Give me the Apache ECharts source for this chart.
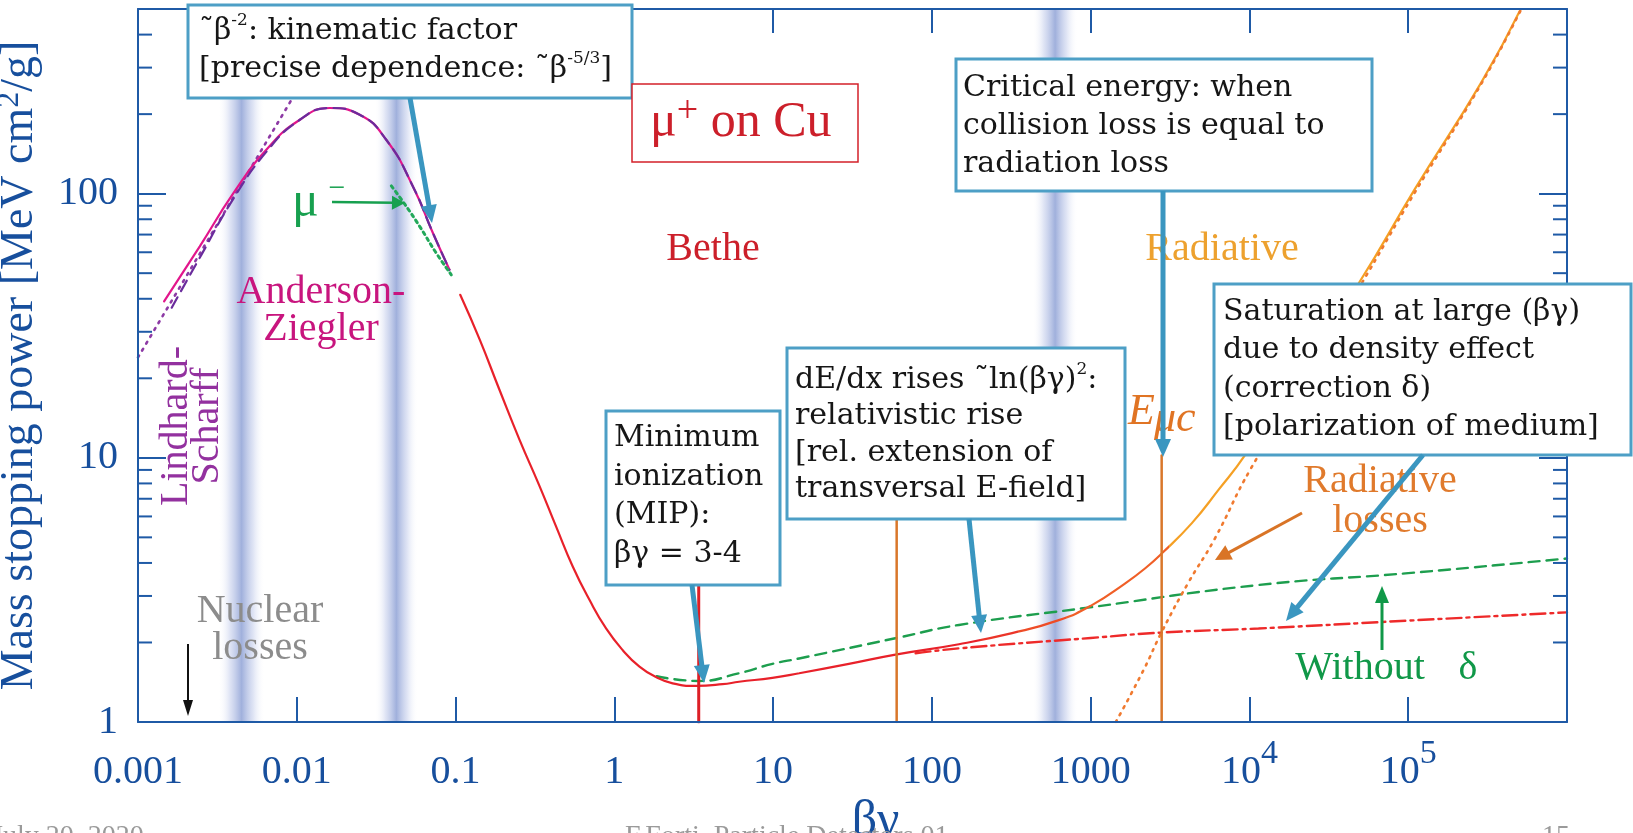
<!DOCTYPE html>
<html>
<head>
<meta charset="UTF-8">
<title>Mass stopping power - mu+ on Cu</title>
<script type="text/javascript" src="https://cdn.jsdelivr.net/npm/echarts@6/dist/echarts.min.js"></script>
<style>
  html, body { margin: 0; padding: 0; background: #fff; }
</style>
</head>
<body>
<div id="main" style="width:1633px;height:833px"></div>
<script type="text/javascript">
// axis ranges and ticks
var xRange = [0.001, 1e6];
var yRange = [1, 500];
var xTickLabels = ['0.001', '0.01', '0.1', '1', '10', '100', '1000', '10^4', '10^5'];
var yTickLabels = ['1', '10', '100'];
var yMinorTicks = [2, 3, 4, 5, 6, 7, 8, 9, 20, 30, 40, 50, 60, 70, 80, 90, 200, 300, 400];

// shaded bands, in betagamma
var bands = [[0.0032, 0.0063], [0.031, 0.058], [430, 830]];

// curves: [betagamma, MeV cm2/g]
var totalLoss = [[0.107, 41.4], [0.142, 28.0], [0.189, 18.1], [0.253, 11.7], [0.337, 7.85], [0.43, 5.49],
  [0.547, 3.88], [0.697, 2.90], [0.887, 2.26], [1.13, 1.87], [1.44, 1.62], [1.83, 1.48], [2.33, 1.40],
  [3.27, 1.37], [4.8, 1.39], [6.1, 1.42], [9.9, 1.47], [14.6, 1.53], [30, 1.66], [59, 1.80], [148, 1.97],
  [320, 2.17], [630, 2.43], [1019, 2.77], [1652, 3.35], [2208, 3.82], [2810, 4.35], [4340, 5.66],
  [6380, 7.56], [9400, 10.26], [49000, 46], [110000, 104], [290000, 265], [520000, 510]];
var restrictedLoss = [[79, 1.82], [148, 1.90], [1000, 2.08], [2810, 2.18], [11400, 2.26], [100000, 2.42], [1000000, 2.60]];
var withoutDelta = [[1.85, 1.49], [3.4, 1.43], [6.1, 1.53], [9.9, 1.66], [14.6, 1.74], [60, 2.08],
  [148, 2.33], [960, 2.71], [11400, 3.30], [100000, 3.66], [1000000, 4.16]];
var radiativeLoss = [[1440, 1], [2150, 1.57], [2810, 2.2], [4100, 3.35], [6000, 4.9], [10200, 9.1],
  [49000, 44], [110000, 101], [290000, 262], [520000, 505]];
var andersonZiegler = [[0.00146, 39.1], [0.00245, 63.2], [0.004, 100.6], [0.00645, 147], [0.0104, 190],
  [0.0161, 211], [0.0249, 199], [0.0366, 160], [0.0537, 107], [0.072, 71], [0.0916, 51.5]];
var lindhardDashed = [[0.00163, 37], [0.0025, 58.5], [0.004, 96], [0.0065, 145], [0.0104, 190],
  [0.0161, 211], [0.0249, 199], [0.0366, 160], [0.0537, 107], [0.072, 71], [0.0916, 51.5]];
var lindhardDotted = [[0.001, 24], [0.0115, 282]];
var muMinus = [[0.0394, 107], [0.048, 91], [0.0594, 75.2], [0.075, 60], [0.094, 49.3]];
var mipLine = [[3.4, 1], [3.4, 3.4]];
var eFieldLine = [[60, 1], [60, 6]];
var ecLine = [[2800, 1], [2800, 10.2]];

// colour grading of the total curve along betagamma
var gradeBreaks = [200, 350, 700, 3100];
var gradeColors = ['#e8212a', '#eb3529', '#ee4c27', '#f05f27', '#f5a024'];

var AXIS = '#1f5aa6';
var AXIS_TEXT = '#174f9d';
var SERIF = 'Liberation Serif';
var BOXFONT = 'DejaVu Serif';

var myChart = echarts.init(document.getElementById('main'), null, {renderer: 'canvas'});

var pieces = gradeColors.map(function (c, i) {
  return {
    gte: i === 0 ? xRange[0] / 10 : gradeBreaks[i - 1],
    lt: i < gradeBreaks.length ? gradeBreaks[i] : xRange[1] * 10,
    color: c
  };
});

function lineSeries(name, data, color, width, type, smooth) {
  var s = {
    name: name, type: 'line', data: data, symbol: 'none', showSymbol: false,
    smooth: smooth !== false, silent: true, z: 3,
    lineStyle: {width: width, type: type || 'solid', cap: 'round'}
  };
  if (color) s.lineStyle.color = color;
  return s;
}

// graphics: boxes, labels, arrows
var graphics = [];
function box(x, y, w, h, stroke, lw) {
  graphics.push({type: 'rect', z: 100, shape: {x: x, y: y, width: w, height: h},
    style: {fill: '#fff', stroke: stroke, lineWidth: lw}});
}
var boxRich = {
  s: {fontSize: 17, lineHeight: 16, verticalAlign: 'top', fontFamily: BOXFONT}
};
function boxText(x, y, lh, lines) {
  graphics.push({type: 'text', z: 101, x: x, y: y,
    style: {text: lines.join('\n'), fontFamily: BOXFONT, fontSize: 30, fill: '#161616',
      align: 'left', verticalAlign: 'top', lineHeight: lh, rich: boxRich}});
}
function freeText(x, y, text, size, color, opt) {
  opt = opt || {};
  graphics.push({type: 'text', z: 101, x: x, y: y, rotation: opt.rotation || 0,
    style: {text: text, fontFamily: SERIF, fontSize: size, fill: color, fontStyle: opt.italic ? 'italic' : 'normal',
      align: opt.align || 'center', verticalAlign: opt.valign || 'middle', lineHeight: opt.lh || size, rich: opt.rich}});
}
function arrow(x1, y1, x2, y2, color, width, headLen, headW) {
  var dx = x2 - x1, dy = y2 - y1, len = Math.sqrt(dx * dx + dy * dy);
  var ux = dx / len, uy = dy / len;
  var bx = x2 - ux * headLen, by = y2 - uy * headLen;
  graphics.push({type: 'line', z: 102, shape: {x1: x1, y1: y1, x2: bx + ux * 2, y2: by + uy * 2},
    style: {stroke: color, lineWidth: width}});
  graphics.push({type: 'polygon', z: 102,
    shape: {points: [[x2, y2], [bx - uy * headW, by + ux * headW], [bx + uy * headW, by - ux * headW]]},
    style: {fill: color}});
}

var BOX = '#4d9fc6', ARROW = '#3a96c0';

box(188, 5, 444, 93, BOX, 3);
boxText(199, 12, 38, ['˜β{s|-2}: kinematic factor', '[precise dependence: ˜β{s|-5/3}]']);
box(632, 84, 226, 78, '#d4202a', 1.5);
freeText(650, 93, '{n|μ}{p|+}{n| on Cu}', 50, '#cc1f2a', {align: 'left', valign: 'top', lh: 60, rich: {
  n: {fontFamily: SERIF, fontSize: 50, lineHeight: 60},
  p: {fontFamily: SERIF, fontSize: 38, lineHeight: 36, verticalAlign: 'top'}}});

box(606, 411, 174, 174, BOX, 3);
boxText(614, 419, 38.5, ['Minimum', 'ionization', '(MIP):', 'βγ = 3-4']);
box(787, 348, 338, 171, BOX, 3);
boxText(795, 361.5, 36.5, ['dE/dx rises ˜ln(βγ){s|2}:', 'relativistic rise', '[rel. extension of', 'transversal E-field]']);
box(956, 59, 416, 132, BOX, 3);
boxText(963, 69.5, 38, ['Critical energy: when', 'collision loss is equal to', 'radiation loss']);

freeText(713, 249.5, 'Bethe', 40, '#cc1f2a');
freeText(321, 311, 'Anderson-\nZiegler', 40, '#c8157e', {lh: 37});
freeText(192, 426, 'Lindhard-\nScharff', 40, '#93319f', {lh: 31, rotation: Math.PI / 2});
freeText(260, 630, 'Nuclear\nlosses', 40, '#8c8c8c', {lh: 37});
freeText(1222, 249.5, 'Radiative', 40, '#eda12e');
freeText(1380, 501.5, 'Radiative\nlosses', 40, '#e07a2c', {lh: 40});
freeText(1360, 668.5, 'Without', 40, '#109848');
freeText(1468, 668.5, 'δ', 40, '#109848');
freeText(1128, 412, 'E', 44, '#e07424', {align: 'left', italic: true});
freeText(1154, 419, 'μc', 44, '#e07424', {align: 'left', italic: true});
freeText(292, 203, 'μ', 50, '#17a04f', {align: 'left'});
freeText(337, 189, '−', 30, '#17a04f');

box(1214, 284, 417, 171, BOX, 3);
boxText(1223, 293, 38.3, ['Saturation at large (βγ)', 'due to density effect', '(correction δ)', '[polarization of medium]']);

arrow(410, 98, 432, 223, ARROW, 5, 18, 8);
arrow(692, 585, 704, 683, ARROW, 5, 18, 8);
arrow(969, 519, 981, 633, ARROW, 5, 18, 8);
arrow(1163, 191, 1163, 457, ARROW, 5, 18, 8);
arrow(1423, 455, 1286, 621, ARROW, 5, 18, 8);
arrow(332, 202, 405, 203, '#17a04f', 2.5, 13, 7);
arrow(1302, 513, 1215, 560, '#d97426', 3, 16, 8);
arrow(1382, 650, 1382, 586, '#109848', 3, 17, 7);
arrow(188, 644, 188, 716, '#111', 2, 16, 5);

// footer, cut by the page edge
freeText(-8, 837, 'July 20, 2020', 28, '#9a9a9a', {align: 'left'});
freeText(625, 837, 'F.Forti, Particle Detectors 01', 28, '#9a9a9a', {align: 'left'});
freeText(1542, 837, '15', 28, '#9a9a9a', {align: 'left'});

var bandColor = new echarts.graphic.LinearGradient(0, 0, 1, 0, [
  {offset: 0, color: 'rgba(255,255,255,0)'},
  {offset: 0.25, color: 'rgba(212,219,241,0.75)'},
  {offset: 0.5, color: 'rgba(160,176,220,1)'},
  {offset: 0.75, color: 'rgba(212,219,241,0.75)'},
  {offset: 1, color: 'rgba(255,255,255,0)'}
]);

var xLabelRich = {
  n: {fontFamily: SERIF, fontSize: 40, color: AXIS_TEXT, lineHeight: 70},
  s: {fontFamily: SERIF, fontSize: 34, color: AXIS_TEXT, lineHeight: 26, verticalAlign: 'top'}
};

var series = [
  {name: 'bands', type: 'line', data: [], silent: true, z: 1,
    markArea: {silent: true, itemStyle: {color: bandColor},
      data: bands.map(function (b) { return [{xAxis: b[0]}, {xAxis: b[1]}]; })}},
  lineSeries('Lindhard-Scharff', lindhardDotted, '#8d3aa5', 2.6, [2, 6], false),
  lineSeries('Anderson-Ziegler', andersonZiegler, '#e2168c', 2.2),
  lineSeries('Lindhard dashed', lindhardDashed, '#6a2c9c', 2.2, [12, 7]),
  lineSeries('mu-', muMinus, '#22a85a', 3, [3, 4]),
  lineSeries('Without delta', withoutDelta, '#1d9e4e', 2.4, [11, 7]),
  lineSeries('Total', totalLoss, null, 2.2),
  lineSeries('Restricted', restrictedLoss, '#ee2a2a', 2.4, [15, 5, 3, 5]),
  lineSeries('Radiative', radiativeLoss, '#f07a30', 2.6, [2, 6]),
  lineSeries('MIP', mipLine, '#dd1f26', 3, 'solid', false),
  lineSeries('E-field', eFieldLine, '#d9772a', 2.5, 'solid', false),
  lineSeries('Ec', ecLine, '#d9772a', 2.5, 'solid', false),
  {name: 'yMinorTicks', type: 'custom', silent: true, z: 6, clip: false,
    data: yMinorTicks.map(function (v) { return [xRange[0], v]; }),
    encode: {x: 0, y: 1},
    renderItem: function (params, api) {
      var l = api.coord([xRange[0], api.value(1)]);
      var r = api.coord([xRange[1], api.value(1)]);
      return {type: 'group', children: [
        {type: 'line', shape: {x1: l[0], y1: l[1], x2: l[0] + 14, y2: l[1]}, style: {stroke: AXIS, lineWidth: 2}},
        {type: 'line', shape: {x1: r[0] - 14, y1: r[1], x2: r[0], y2: r[1]}, style: {stroke: AXIS, lineWidth: 2}}
      ]};
    }}
];

var option = {
  animation: false,
  backgroundColor: '#fff',
  textStyle: {fontFamily: SERIF},
  grid: {left: 138, right: 66, top: 9, bottom: 111, containLabel: false, outerBoundsMode: 'none'},
  visualMap: {type: 'piecewise', show: false, dimension: 0, seriesIndex: 6, pieces: pieces},
  xAxis: [{
    type: 'log', logBase: 10, min: xRange[0], max: xRange[1], position: 'bottom', z: 5,
    axisLine: {show: true, onZero: false, lineStyle: {color: AXIS, width: 2}},
    axisTick: {show: true, inside: true, length: 25, lineStyle: {color: AXIS, width: 2}},
    splitLine: {show: false},
    axisLabel: {margin: 15, rich: xLabelRich, formatter: function (v) {
      var t = xTickLabels[Math.round(Math.log10(v) - Math.log10(xRange[0]))];
      if (!t) return '';
      var p = t.split('^');
      return p.length > 1 ? '{n|' + p[0] + '}{s|' + p[1] + '}' : '{n|' + t + '}';
    }},
    name: 'βγ', nameLocation: 'middle', nameGap: 88,
    nameTextStyle: {fontFamily: SERIF, fontSize: 50, color: AXIS_TEXT, verticalAlign: 'middle', padding: [0, 0, 0, 46]}
  }, {
    type: 'log', logBase: 10, min: xRange[0], max: xRange[1], position: 'top', z: 5,
    axisLine: {show: true, onZero: false, lineStyle: {color: AXIS, width: 2}},
    axisTick: {show: true, inside: true, length: 24, lineStyle: {color: AXIS, width: 2}},
    axisLabel: {show: false}, splitLine: {show: false}
  }],
  yAxis: [{
    type: 'log', logBase: 10, min: yRange[0], max: yRange[1], position: 'left', z: 5,
    axisLine: {show: true, onZero: false, lineStyle: {color: AXIS, width: 2}},
    axisTick: {show: true, inside: true, length: 28, lineStyle: {color: AXIS, width: 2}},
    splitLine: {show: false},
    axisLabel: {margin: 20, fontFamily: SERIF, fontSize: 40, color: AXIS_TEXT, formatter: function (v) {
      var s = String(Math.round(v));
      return yTickLabels.indexOf(s) >= 0 ? s : '';
    }},
    name: 'Mass stopping power [MeV cm{s|2}/g]', nameLocation: 'middle', nameRotate: 90, nameGap: 107,
    nameTextStyle: {fontFamily: SERIF, fontSize: 46, color: AXIS_TEXT, verticalAlign: 'middle', lineHeight: 54,
      rich: {s: {fontFamily: SERIF, fontSize: 32, color: AXIS_TEXT, lineHeight: 28, verticalAlign: 'top'}}}
  }, {
    type: 'log', logBase: 10, min: yRange[0], max: yRange[1], position: 'right', z: 5,
    axisLine: {show: true, onZero: false, lineStyle: {color: AXIS, width: 2}},
    axisTick: {show: true, inside: true, length: 28, lineStyle: {color: AXIS, width: 2}},
    axisLabel: {show: false}, splitLine: {show: false}
  }],
  graphic: {elements: graphics},
  series: series
};

myChart.setOption(option);
</script>
</body>
</html>
